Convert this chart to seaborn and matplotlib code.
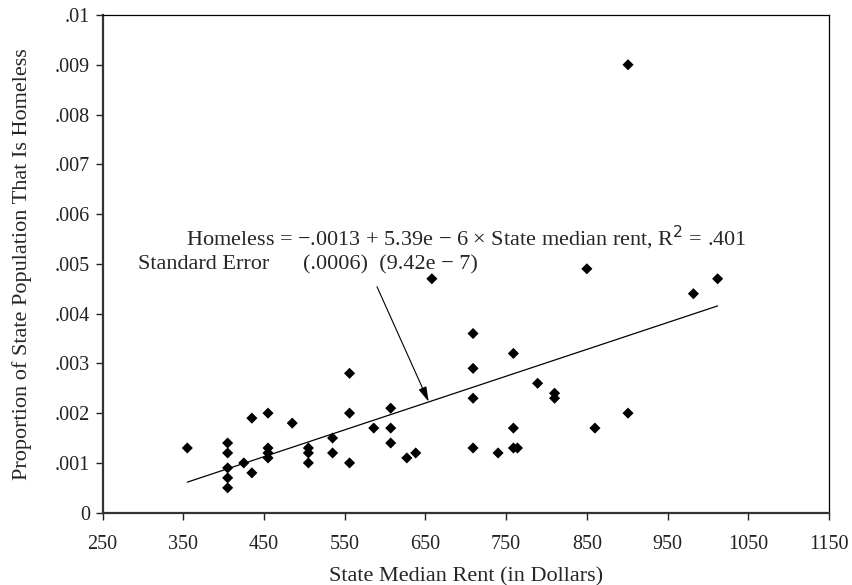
import numpy as np
import pandas as pd
import matplotlib
matplotlib.use('Agg')
import matplotlib.pyplot as plt
import seaborn as sns

# State median rent (dollars) and proportion homeless
rent = [355, 405, 405, 405, 405, 405, 425, 435, 435, 455, 455, 455, 455,
        485, 505, 505, 505, 535, 535, 556, 556, 556, 586, 607, 607, 607,
        627, 638, 658, 709, 709, 709, 709, 740, 759, 759, 759, 764, 789,
        810, 810, 850, 860, 901, 901, 982, 1012]
homeless = [.0013, .0014, .0012, .0009, .0007, .0005, .0010, .0019, .0008,
            .0020, .0013, .0012, .0011, .0018, .0013, .0012, .0010, .0015,
            .0012, .0028, .0020, .0010, .0017, .0021, .0017, .0014, .0011,
            .0012, .0047, .0036, .0029, .0023, .0013, .0012, .0032, .0017,
            .0013, .0013, .0026, .0024, .0023, .0049, .0017, .0090, .0020,
            .0044, .0047]

# fitted line reported in the chart
intercept = -0.0013
slope = 5.39e-6

x_ticks = [250, 350, 450, 550, 650, 750, 850, 950, 1050, 1150]
y_ticks = [0, .001, .002, .003, .004, .005, .006, .007, .008, .009, .01]
y_tick_labels = ['0', '.001', '.002', '.003', '.004', '.005', '.006',
                 '.007', '.008', '.009', '.01']

sns.set_style('white')
plt.rcParams['font.family'] = ['Liberation Serif', 'DejaVu Serif']

data = pd.DataFrame({'rent': rent, 'homeless': homeless})
fit_x = np.array([min(rent), max(rent)])
fit = pd.DataFrame({'rent': fit_x, 'homeless': intercept + slope * fit_x})

fig = plt.figure(figsize=(8.53, 5.85), dpi=100)
ax = fig.add_axes([0.1202, 0.1236, 0.8517, 0.8508])

sns.scatterplot(data=data, x='rent', y='homeless', marker='D', s=32,
                color='black', edgecolor='none', ax=ax)
sns.lineplot(data=fit, x='rent', y='homeless', color='black', linewidth=0.9,
             ax=ax)

ax.set_xlim(250, 1150)
ax.set_ylim(0, 0.01)
ax.set_xticks(x_ticks)
ax.set_xticklabels([str(t) for t in x_ticks])
ax.set_yticks(y_ticks)
ax.set_yticklabels(y_tick_labels)
ax.tick_params(axis='both', direction='out', length=5, width=1, labelsize=14.5,
               colors='#222222', bottom=True, left=True)
ax.tick_params(axis='x', pad=11)
ax.tick_params(axis='y', pad=4)

for side in ['left', 'bottom']:
    ax.spines[side].set_color('#333333')
    ax.spines[side].set_linewidth(1.6)
for side in ['top', 'right']:
    ax.spines[side].set_color('black')
    ax.spines[side].set_linewidth(0.9)

ax.set_xlabel('State Median Rent (in Dollars)', fontsize=16)
ax.set_ylabel('Proportion of State Population That Is Homeless', fontsize=16)
ax.xaxis.set_label_coords(0.5, -0.11)
ax.yaxis.set_label_coords(-0.097, 0.5)

ax.text(353, 0.00552,
        'Homeless = \u2212.0013 + 5.39e \u2212 6 \u00d7 State median rent, R$^2$ = .401',
        fontsize=16, ha='left', va='center')
ax.text(294, 0.00497, 'Standard Error      (.0006)  (9.42e \u2212 7)',
        fontsize=16, ha='left', va='center')
ax.annotate('', xy=(654, 0.00223), xytext=(590, 0.00454),
            arrowprops=dict(arrowstyle='-|>,head_length=0.9,head_width=0.25',
                            color='black', linewidth=0.8, shrinkA=0, shrinkB=0))

fig.savefig('out.png', dpi=100)
